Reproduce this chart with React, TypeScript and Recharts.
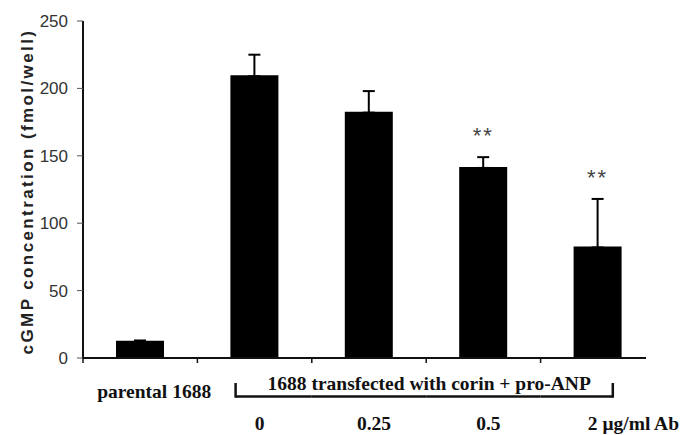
import { BarChart, Bar, XAxis, YAxis, ErrorBar, LabelList, Label } from 'recharts';

// cGMP per well
const categories = ['parental', '0', '0.25', '0.5', '2'];
const cgmpValues = [12, 209, 182, 141, 82];
const semValues = [1, 16, 16, 8, 36];
const significance = ['', '', '', '**', '**'];
const rowLabels = ['parental 1688', '0', '0.25', '0.5', '2 μg/ml Ab'];
const groupLabel = '1688 transfected with corin + pro-ANP';
const yTicks = [0, 50, 100, 150, 200, 250];
const yTitle = 'cGMP concentration (fmol/well)';

const rows = categories.map((c, i) => ({
  category: c,
  cgmp: cgmpValues[i],
  err: [0, semValues[i]],
  sig: significance[i],
}));

const serif = '"Liberation Serif", "Times New Roman", serif';
const sans = '"Liberation Sans", Arial, sans-serif';
const last = categories.length - 1;

function CategoryTick(props: any) {
  const { x, y, payload } = props;
  const i = props.index ?? payload.index;
  const half = payload.offset || 57;
  const ink = '#111';
  const bracketY = y + 38.5;

  return (
    <g>
      {/* excel style ticks at category borders */}
      {i === 0 && <line x1={x - half} x2={x - half} y1={y} y2={y + 5} stroke={ink} strokeWidth={1.5} />}
      {i < last && <line x1={x + half} x2={x + half} y1={y} y2={y + 5} stroke={ink} strokeWidth={1.5} />}

      {i === 0 ? (
        <text x={x + 14} y={y + 40} textAnchor="middle" fontFamily={serif} fontWeight="bold" fontSize={19.5} fill={ink}>
          {rowLabels[i]}
        </text>
      ) : (
        <>
          <text
            x={i === last ? x - 10 : x + 5}
            y={y + 72}
            textAnchor={i === last ? 'start' : 'middle'}
            fontFamily={serif}
            fontWeight="bold"
            fontSize={19.5}
            fill={ink}
          >
            {rowLabels[i]}
          </text>
          {/* bracket under the transfected group */}
          <line
            x1={i === 1 ? x - 19 : x - half}
            x2={i === last ? x + 15 : x + half}
            y1={bracketY}
            y2={bracketY}
            stroke={ink}
            strokeWidth={2.5}
          />
          {i === 1 && <line x1={x - 19} x2={x - 19} y1={y + 25} y2={bracketY + 1.2} stroke={ink} strokeWidth={2.5} />}
          {i === last && <line x1={x + 15} x2={x + 15} y1={y + 25} y2={bracketY + 1.2} stroke={ink} strokeWidth={2.5} />}
          {i === 2 && (
            <text x={x + half + 3} y={y + 31.5} textAnchor="middle" fontFamily={serif} fontWeight="bold" fontSize={19.5} fill={ink}>
              {groupLabel}
            </text>
          )}
        </>
      )}
    </g>
  );
}

function SigLabel(props: any) {
  const { x, y, width, height, index } = props;
  const mark = significance[index];
  if (!mark) return null;
  const perUnit = height / cgmpValues[index];
  const errTop = y - semValues[index] * perUnit;
  return (
    <text x={x + width / 2} y={errTop - 14} textAnchor="middle" fontFamily={sans} fontSize={22} fill="#444" letterSpacing={2}>
      {mark}
    </text>
  );
}

function YTitle(props: any) {
  const vb = props.viewBox || { x: 0, y: 21, width: 83, height: 337 };
  const cx = vb.x + 27;
  const cy = vb.y + vb.height / 2 + 2;
  return (
    <text
      x={cx}
      y={cy}
      transform={`rotate(-90, ${cx}, ${cy})`}
      textAnchor="middle"
      dominantBaseline="central"
      fontFamily={sans}
      fontWeight="bold"
      fontSize={17}
      letterSpacing={2.4}
      fill="#222"
    >
      {yTitle}
    </text>
  );
}

export default function App() {
  return (
    <div style={{ position: 'absolute', left: 0, top: 0, background: '#fff' }}>
      <BarChart
        width={685}
        height={435}
        data={rows}
        margin={{ top: 21, right: 39, bottom: 0, left: 0 }}
        barSize={46}
      >
        <XAxis
          xAxisId="main"
          dataKey="category"
          height={77}
          padding={{ left: 0, right: -9 }}
          interval={0}
          tickLine={false}
          tickSize={0}
          tickMargin={0}
          axisLine={{ stroke: '#111', strokeWidth: 2 }}
          tick={<CategoryTick />}
        />
        {/* top edge of the plot frame */}
        <XAxis xAxisId="frame" orientation="top" height={0} tick={false} tickLine={false} axisLine={{ stroke: '#222', strokeWidth: 1.5 }} />
        <YAxis
          yAxisId="main"
          domain={[0, 250]}
          ticks={yTicks}
          width={83}
          tickSize={6}
          tickMargin={9}
          axisLine={{ stroke: '#111', strokeWidth: 2 }}
          tickLine={{ stroke: '#555', strokeWidth: 1 }}
          tick={{ fontFamily: sans, fontSize: 17, fill: '#333' }}
          label={<Label content={<YTitle />} />}
        />
        {/* right edge of the plot frame */}
        <YAxis yAxisId="frame" orientation="right" width={0} tick={false} tickLine={false} axisLine={{ stroke: '#222', strokeWidth: 1.5 }} />
        <Bar xAxisId="main" yAxisId="main" dataKey="cgmp" fill="#000" stroke="#000" strokeWidth={2} isAnimationActive={false}>
          <ErrorBar dataKey="err" direction="y" width={6} stroke="#000" strokeWidth={2} isAnimationActive={false} />
          <LabelList dataKey="sig" content={<SigLabel />} />
        </Bar>
      </BarChart>
    </div>
  );
}
